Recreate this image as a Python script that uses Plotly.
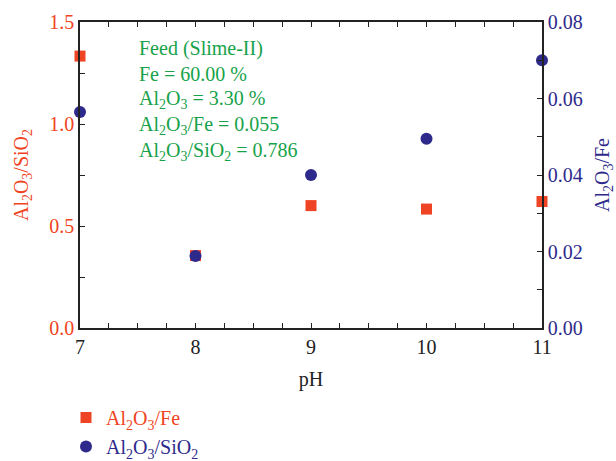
import plotly.graph_objects as go

ph = [7, 8, 9, 10, 11]
al_fe_sq = [1.333, 0.355, 0.600, 0.583, 0.620]      # red squares, left axis
al_si_circ = [0.0565, 0.0188, 0.0400, 0.0495, 0.0700]  # blue circles, right axis

feed_lines = [
    "Feed (Slime-II)",
    "Fe = 60.00 %",
    "Al<sub>2</sub>O<sub>3</sub> = 3.30 %",
    "Al<sub>2</sub>O<sub>3</sub>/Fe = 0.055",
    "Al<sub>2</sub>O<sub>3</sub>/SiO<sub>2</sub> = 0.786",
]

RED = "#ef4423"
BLUE = "#2e2a8c"
GREEN = "#17a24a"
FONT = "Liberation Serif"

fig = go.Figure()
fig.add_trace(go.Scatter(
    x=ph, y=al_fe_sq, mode="markers",
    name=f'<span style="color:{RED}">Al<sub>2</sub>O<sub>3</sub>/Fe</span>',
    marker=dict(symbol="square", size=11, color=RED), cliponaxis=False, yaxis="y"))
fig.add_trace(go.Scatter(
    x=ph, y=al_si_circ, mode="markers",
    name=f'<span style="color:{BLUE}">Al<sub>2</sub>O<sub>3</sub>/SiO<sub>2</sub></span>',
    marker=dict(symbol="circle", size=12, color=BLUE), cliponaxis=False, yaxis="y2"))

for i, t in enumerate(feed_lines):
    fig.add_annotation(xref="x", yref="paper", x=7.49, y=(328 - 48 - 25.8 * i) / 306,
                       text=t, showarrow=False, xanchor="left", yanchor="middle",
                       font=dict(family=FONT, size=20, color=GREEN))

fig.update_layout(
    width=616, height=461,
    margin=dict(l=80, r=74, t=22, b=133, autoexpand=False),
    paper_bgcolor="white", plot_bgcolor="white",
    font=dict(family=FONT, size=20, color="#222"),
    showlegend=True,
    legend=dict(x=-14 / 462, y=-70 / 306, xanchor="left", yanchor="top",
                font=dict(family=FONT, size=20), tracegroupgap=0,
                bgcolor="rgba(0,0,0,0)", itemwidth=30),
    xaxis=dict(range=[7, 11], tickvals=[7, 8, 9, 10, 11], showline=True, linecolor="#222",
               linewidth=1.5, mirror="allticks", ticks="inside", ticklen=5, tickcolor="#222",
               showgrid=False, zeroline=False, automargin=False,
               minor=dict(dtick=0.25, ticks="inside", ticklen=3, tickcolor="#222"),
               title=dict(text="pH", font=dict(size=20)),
               tickfont=dict(size=20, color="#222")),
    yaxis=dict(range=[0, 1.5], tickvals=[0, 0.5, 1.0, 1.5], ticktext=["0.0", "0.5", "1.0", "1.5"],
               showline=True, linecolor="#222", linewidth=1.5, automargin=False,
               ticks="inside", ticklen=5, tickcolor="#222", showgrid=False, zeroline=False,
               minor=dict(dtick=0.25, ticks="inside", ticklen=5, tickcolor="#222"),
               tickfont=dict(size=20, color=RED),
               title=dict(text="Al<sub>2</sub>O<sub>3</sub>/SiO<sub>2</sub>", font=dict(size=20, color=RED))),
    yaxis2=dict(range=[0, 0.08], tickvals=[0, 0.02, 0.04, 0.06, 0.08],
                ticktext=["0.00", "0.02", "0.04", "0.06", "0.08"],
                overlaying="y", side="right", showline=True, linecolor="#222", linewidth=1.5,
                ticks="inside", ticklen=5, tickcolor="#222", showgrid=False, zeroline=False,
                automargin=False,
                minor=dict(dtick=0.01, ticks="inside", ticklen=5, tickcolor="#222"),
                tickfont=dict(size=20, color=BLUE),
                title=dict(text="Al<sub>2</sub>O<sub>3</sub>/Fe", font=dict(size=20, color=BLUE))),
)

fig.write_html("out.html")
